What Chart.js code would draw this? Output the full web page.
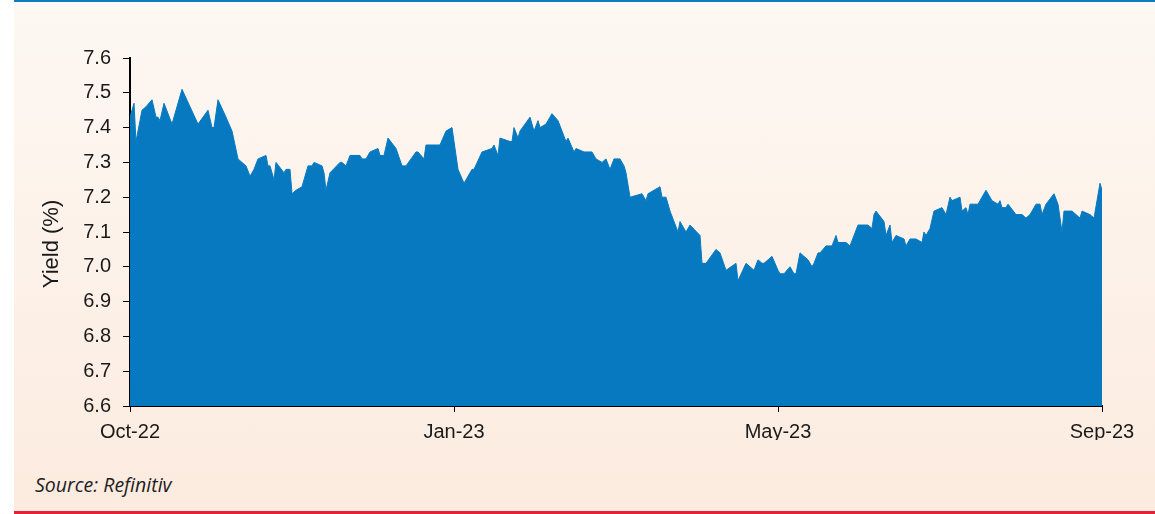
<!DOCTYPE html>
<html>
<head>
<meta charset="utf-8">
<script src="https://cdn.jsdelivr.net/npm/chart.js@4"></script>
<style>
  html, body { margin: 0; padding: 0; background: #ffffff; }
  #wrap { position: relative; width: 1155px; height: 514px; overflow: hidden; }
  #panel {
    position: absolute; left: 14px; top: 0; width: 1141px; height: 514px;
    background: linear-gradient(to bottom, #fdf8f3 0%, #fcebdf 100%);
  }
  #topline { position: absolute; left: 14px; top: 0; width: 1141px; height: 2px; background: #0b7bc1; }
  #bottomline { position: absolute; left: 14px; top: 511px; width: 1141px; height: 3px; background: #e52235; }
  #chartbox { position: absolute; left: 0; top: 0; width: 1155px; height: 440px; }
  #source {
    position: absolute; left: 35px; top: 471px;
    font-family: "Open Sans", "Noto Sans", sans-serif; font-style: italic;
    font-size: 19.5px; color: #222;
  }
</style>
</head>
<body>
<div id="wrap">
  <div id="panel"></div>
  <div id="topline"></div>
  <div id="bottomline"></div>
  <div id="chartbox"><canvas id="graph-area" width="1155" height="440"></canvas></div>
  <div id="source">Source: Refinitiv</div>
</div>
<script>
// trading-day index (Oct-22 = 0 ... Sep-23 = 486)
var days = [
  0, 2, 3, 6, 8, 11, 13, 14, 15, 17,
  21, 26, 34, 39, 41, 42, 44, 48, 51, 54,
  58, 60, 62, 64, 68, 69, 70, 72, 73, 77,
  78, 80, 81, 83, 86, 89, 91, 92, 96, 97,
  98, 100, 105, 106, 108, 110, 115, 116, 118, 120,
  124, 125, 127, 129, 133, 136, 138, 143, 144, 147,
  148, 155, 158, 161, 164, 167, 171, 172, 176, 181,
  182, 184, 185, 190, 191, 192, 194, 195, 200, 202,
  204, 205, 208, 211, 214, 218, 219, 222, 223, 227,
  231, 233, 236, 238, 240, 242, 245, 247, 248, 250,
  256, 258, 259, 265, 266, 268, 270, 274, 275, 278,
  280, 285, 286, 288, 293, 295, 298, 303, 304, 308,
  312, 314, 316, 317, 321, 324, 325, 327, 330, 332,
  333, 335, 339, 341, 342, 344, 345, 348, 351, 353,
  354, 358, 360, 364, 369, 371, 372, 373, 377, 378,
  380, 381, 383, 387, 388, 390, 393, 396, 397, 398,
  400, 402, 406, 408, 410, 411, 415, 416, 418, 419,
  420, 424, 428, 431, 434, 435, 436, 438, 439, 443,
  446, 448, 450, 453, 455, 456, 458, 462, 464, 466,
  467, 471, 475, 476, 480, 482, 485, 486
];

// 10y yield (%)
var yields = [
  7.43, 7.47, 7.36, 7.45, 7.46, 7.48, 7.43, 7.43, 7.42, 7.47,
  7.41, 7.51, 7.41, 7.45, 7.40, 7.40, 7.48, 7.43, 7.39, 7.31,
  7.29, 7.26, 7.28, 7.31, 7.32, 7.29, 7.29, 7.25, 7.30, 7.27,
  7.28, 7.28, 7.21, 7.22, 7.23, 7.29, 7.29, 7.30, 7.29, 7.27,
  7.22, 7.27, 7.30, 7.30, 7.29, 7.32, 7.32, 7.31, 7.31, 7.33,
  7.34, 7.32, 7.32, 7.37, 7.34, 7.29, 7.29, 7.33, 7.33, 7.31,
  7.35, 7.35, 7.39, 7.40, 7.28, 7.24, 7.28, 7.28, 7.33, 7.34,
  7.35, 7.32, 7.37, 7.36, 7.36, 7.40, 7.37, 7.39, 7.43, 7.39,
  7.42, 7.40, 7.41, 7.44, 7.42, 7.36, 7.37, 7.33, 7.34, 7.33,
  7.33, 7.31, 7.30, 7.31, 7.28, 7.31, 7.31, 7.29, 7.27, 7.20,
  7.21, 7.19, 7.21, 7.23, 7.20, 7.20, 7.16, 7.10, 7.13, 7.10,
  7.12, 7.09, 7.01, 7.01, 7.05, 7.04, 6.99, 7.01, 6.96, 7.01,
  6.99, 7.02, 7.01, 7.01, 7.03, 6.99, 6.98, 6.98, 7.00, 6.98,
  6.98, 7.04, 7.02, 7.00, 7.01, 7.04, 7.04, 7.06, 7.06, 7.09,
  7.07, 7.07, 7.06, 7.12, 7.12, 7.11, 7.15, 7.16, 7.13, 7.09,
  7.12, 7.07, 7.09, 7.08, 7.06, 7.08, 7.08, 7.07, 7.10, 7.09,
  7.11, 7.16, 7.17, 7.15, 7.20, 7.19, 7.20, 7.16, 7.17, 7.15,
  7.18, 7.18, 7.22, 7.19, 7.18, 7.19, 7.17, 7.17, 7.18, 7.15,
  7.15, 7.14, 7.15, 7.18, 7.18, 7.15, 7.18, 7.21, 7.18, 7.10,
  7.16, 7.16, 7.14, 7.16, 7.15, 7.14, 7.24, 7.22
];

var tickLabels = ["Oct-22", "Jan-23", "May-23", "Sep-23"];
var tickStep = 162;
var yMin = 6.6, yMax = 7.6;
var yTitle = "Yield (%)";

window.addEventListener("DOMContentLoaded", function () {
  var points = days.map(function (d, i) { return { x: d, y: yields[i] }; });
  var axisFont = { family: "'Liberation Sans', Arial, sans-serif", size: 20 };

  // y-axis title, drawn a bit below the middle like the original
  var yTitlePlugin = {
    id: 'yTitle',
    afterDraw: function (c) {
      var ctx = c.ctx;
      ctx.save();
      ctx.translate(52, 244);
      ctx.rotate(-Math.PI / 2);
      ctx.font = "22px 'Liberation Sans', Arial, sans-serif";
      ctx.fillStyle = '#1a1a1a';
      ctx.textAlign = 'center';
      ctx.textBaseline = 'middle';
      ctx.fillText(yTitle, 0, 0);
      ctx.restore();
    }
  };

  var canvas = document.getElementById('graph-area');
  var chart = new Chart(canvas, {
    type: 'line',
    data: {
      datasets: [{
        data: points,
        fill: 'start',
        backgroundColor: '#0779c0',
        borderColor: '#0779c0',
        borderWidth: 1,
        pointRadius: 0,
        tension: 0
      }]
    },
    options: {
      responsive: false,
      animation: false,
      events: [],
      layout: { padding: { left: 36, right: 53, top: 58, bottom: 0 } },
      plugins: { legend: { display: false }, tooltip: { enabled: false } },
      scales: {
        x: {
          type: 'linear',
          min: 0,
          max: tickStep * (tickLabels.length - 1),
          afterFit: function (s) { s.height = 34; },
          border: { color: '#000', width: 2 },
          grid: { drawOnChartArea: false, drawTicks: true, tickLength: 6, color: '#000', lineWidth: 1 },
          ticks: {
            stepSize: tickStep,
            autoSkip: false,
            maxRotation: 0,
            padding: 8,
            color: '#1a1a1a',
            font: axisFont,
            callback: function (v) { return tickLabels[Math.round(v / tickStep)]; }
          }
        },
        y: {
          min: yMin,
          max: yMax,
          afterFit: function (s) { s.width = 94; },
          border: { color: '#000', width: 2 },
          grid: { drawOnChartArea: false, drawTicks: true, tickLength: 7, color: '#000', lineWidth: 1 },
          ticks: {
            stepSize: 0.1,
            padding: 12,
            color: '#1a1a1a',
            font: axisFont,
            callback: function (v) { return v.toFixed(1); }
          }
        }
      }
    },
    plugins: [yTitlePlugin]
  });
});
</script>
</body>
</html>
